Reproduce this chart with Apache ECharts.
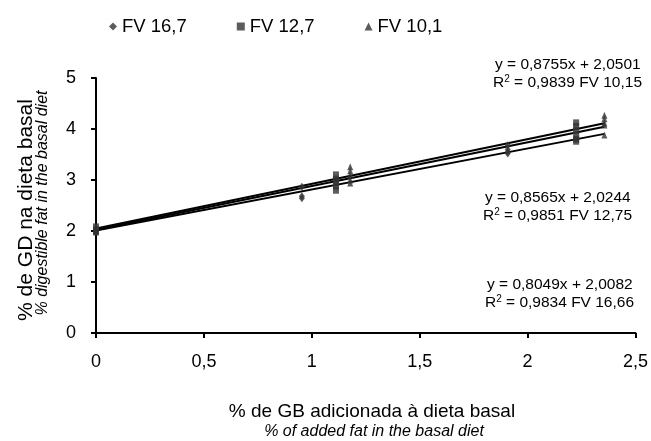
<!DOCTYPE html>
<html>
<head>
<meta charset="utf-8">
<script src="https://cdn.jsdelivr.net/npm/echarts@6/dist/echarts.min.js"></script>
<style>
html, body { margin: 0; padding: 0; background: #fff; }
#chart { width: 651px; height: 441px; }
</style>
</head>
<body>
<div id="chart"></div>
<script>
// observed points [x, y] per oil
var fv167 = [[0, 2.05], [0, 2.0], [0.954, 2.87], [0.954, 2.68], [0.954, 2.64],
             [1.908, 3.68], [1.908, 3.6], [1.908, 3.55], [1.908, 3.52]];
var fv127 = [[0, 2.08], [0, 2.02], [0, 1.98], [1.112, 3.1], [1.112, 3.02], [1.112, 2.95],
             [1.112, 2.88], [1.112, 2.8], [2.225, 4.12], [2.225, 4.05], [2.225, 3.97],
             [2.225, 3.88], [2.225, 3.8], [2.225, 3.76]];
var fv101 = [[0, 2.06], [0, 2.0], [1.178, 3.26], [1.178, 3.18], [1.178, 3.1], [1.178, 3.0],
             [1.178, 2.94], [2.356, 4.27], [2.356, 4.2], [2.356, 4.12], [2.356, 4.08], [2.356, 3.88]];

var seriesNames = ['FV 16,7', 'FV 12,7', 'FV 10,1'];
var symbols = ['diamond', 'rect', 'triangle'];
// trendlines (as printed on the chart)
var slopes = [0.8049, 0.8565, 0.8755];
var intercepts = [2.0082, 2.0244, 2.0501];
var eqText = ['y = 0,8049x + 2,0082', 'y = 0,8565x + 2,0244', 'y = 0,8755x + 2,0501'];
var r2Text = ['0,9834 FV 16,66', '0,9851 FV 12,75', '0,9839 FV 10,15'];
var trendEnd = 2.356;

var chart = echarts.init(document.getElementById('chart'));
var font = '"Liberation Sans", Arial, sans-serif';
var points = [fv167, fv127, fv101];

var series = [];
for (var i = 0; i < 3; i++) {
    series.push({
        name: seriesNames[i],
        type: 'scatter',
        symbol: symbols[i],
        symbolSize: i === 0 ? [6, 8] : [6, 7],
        itemStyle: { color: '#333' },
        data: points[i],
        z: 3
    });
}
for (var j = 0; j < 3; j++) {
    series.push({
        name: 'trend' + j,
        type: 'line',
        showSymbol: false,
        symbol: 'none',
        lineStyle: { color: '#000', width: 2 },
        data: [[0, intercepts[j]], [trendEnd, slopes[j] * trendEnd + intercepts[j]]],
        z: 2,
        silent: true
    });
}

// equation labels: [left, middle of first line]
var eqPos = [[487, 285], [485, 198], [495, 65]];
var graphics = [];
for (var k = 0; k < 3; k++) {
    graphics.push({
        type: 'text', x: eqPos[k][0], y: eqPos[k][1],
        style: { text: eqText[k], font: '15.5px ' + font, fill: '#000', verticalAlign: 'middle' }
    });
    graphics.push({
        type: 'text', x: eqPos[k][0] - 2, y: eqPos[k][1] + 18,
        style: {
            text: 'R{s|2} = ' + r2Text[k],
            font: '15.5px ' + font, fill: '#000', verticalAlign: 'middle',
            rich: { s: { fontSize: 10, fontFamily: font, verticalAlign: 'top', padding: [0, 0, 8, 0] } }
        }
    });
}
// axis titles
graphics.push({
    type: 'text', x: 372, y: 412,
    style: { text: '% de GB adicionada à dieta basal', font: '19px ' + font, fill: '#000', align: 'center', verticalAlign: 'middle' }
});
graphics.push({
    type: 'text', x: 374, y: 432,
    style: { text: '% of added fat in the basal diet', font: 'italic 16px ' + font, fill: '#000', align: 'center', verticalAlign: 'middle' }
});
graphics.push({
    type: 'text', x: 26, y: 210, rotation: Math.PI / 2,
    style: { text: '% de GD na dieta basal', font: '21px ' + font, fill: '#000', align: 'center', verticalAlign: 'middle' }
});
graphics.push({
    type: 'text', x: 43, y: 203, rotation: Math.PI / 2,
    style: { text: '% digestible fat in the basal diet', font: 'italic 16px ' + font, fill: '#000', align: 'center', verticalAlign: 'middle' }
});

var option = {
    backgroundColor: '#fff',
    animation: false,
    legend: {
        data: seriesNames,
        left: 104,
        top: 12,
        itemWidth: 8,
        itemHeight: 8,
        itemGap: 50,
        textStyle: { fontSize: 18.5, fontFamily: font, color: '#000' }
    },
    grid: { left: 96, right: 14, top: 78, bottom: 108 },
    xAxis: {
        type: 'value', min: 0, max: 2.5, interval: 0.5,
        axisLine: { lineStyle: { color: '#000', width: 2 } },
        axisTick: { show: true, length: 5, lineStyle: { color: '#000', width: 2 } },
        splitLine: { show: false },
        axisLabel: {
            margin: 20, fontSize: 18, fontFamily: font, color: '#000',
            formatter: function (v) { return String(v).replace('.', ','); }
        }
    },
    yAxis: {
        type: 'value', min: 0, max: 5, interval: 1,
        axisLine: { show: true, lineStyle: { color: '#000', width: 2 } },
        axisTick: { show: true, length: 5, lineStyle: { color: '#000', width: 2 } },
        splitLine: { show: false },
        axisLabel: { margin: 20, fontSize: 18, fontFamily: font, color: '#000' }
    },
    graphic: graphics,
    series: series
};
chart.setOption(option);
</script>
</body>
</html>
